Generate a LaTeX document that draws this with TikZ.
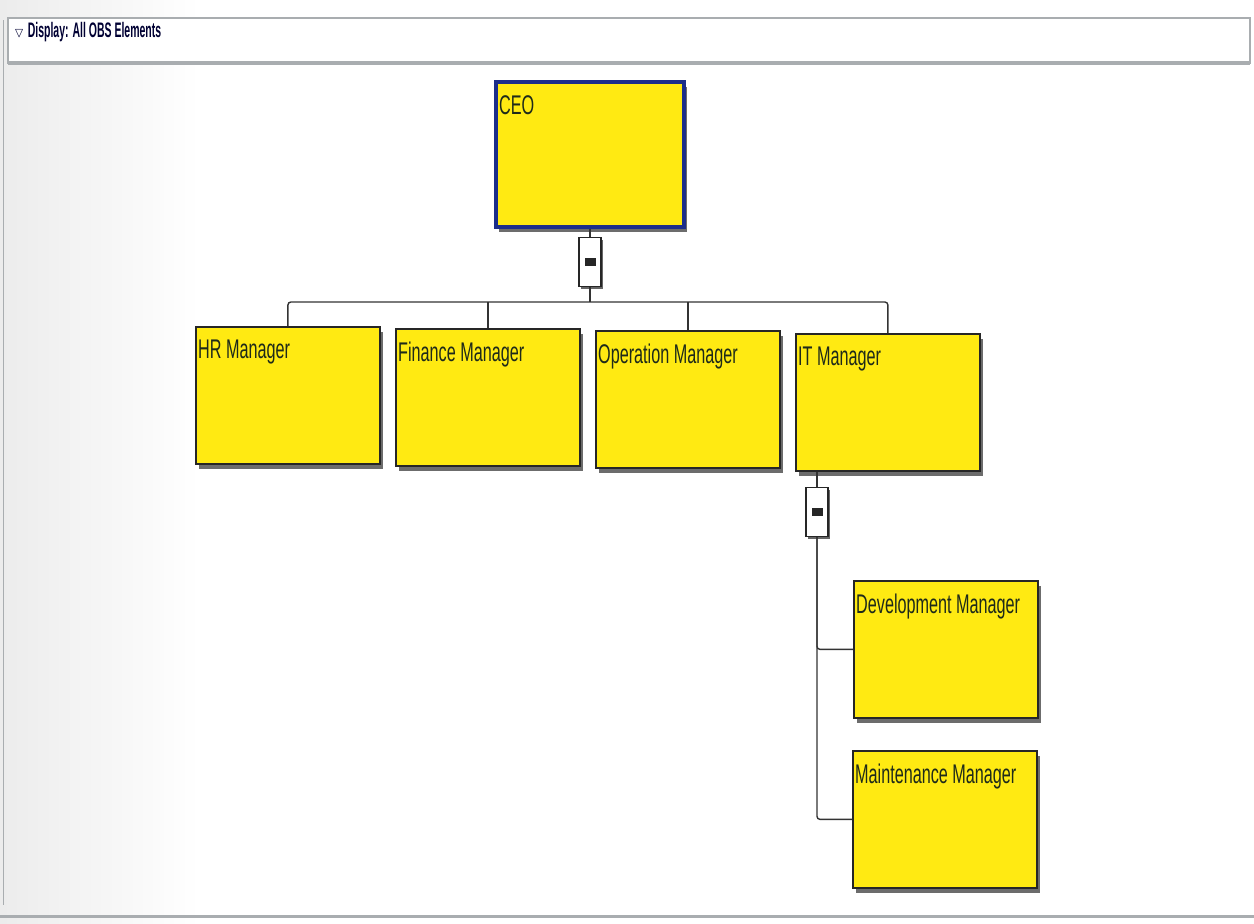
\documentclass[tikz,border=0pt]{standalone}
\usepackage{amssymb}
\usepackage{fontspec}
\setmainfont{Liberation Sans}[FakeStretch=0.6]
\newfontfamily\hdrfont{Liberation Sans}[FakeStretch=0.5]
\usetikzlibrary{positioning,shadows}
\definecolor{obsYellow}{HTML}{FFEA12}
\definecolor{obsNavy}{HTML}{1C2E8A}
\definecolor{obsFrame}{HTML}{A9ADB0}
\definecolor{obsText}{HTML}{1E2A1A}

\tikzset{
  obsbox/.style={draw=black!85,line width=1.8pt,fill=obsYellow,
    minimum width=184,minimum height=137,inner sep=0pt,anchor=north west,
    drop shadow={shadow xshift=3pt,shadow yshift=-5pt,fill=gray!85!black,opacity=1}},
  obslabel/.style={font=\fontsize{27}{30}\selectfont,text=obsText,
    anchor=north west,inner sep=3pt},
  togglebox/.style={draw=black!85,line width=1.3pt,fill=white,
    minimum width=22,minimum height=49,inner sep=0pt,
    drop shadow={shadow xshift=1.5pt,shadow yshift=-2.5pt,fill=gray!80!black,opacity=1},
    path picture={\fill[black!85]
      ([xshift=-5.5pt,yshift=-4pt]path picture bounding box.center)
      rectangle ++(11pt,8pt);}},
  link/.style={draw=black!80,line width=1.4pt,rounded corners=3pt}
}

\begin{document}
\begin{tikzpicture}[x=1pt,y=-1pt]
  \useasboundingbox[fill=white] (0,0) rectangle (1254,924);
  % panel and header bar
  \fill[left color=gray!15,right color=white] (0,0) rectangle (200,924);
  \draw[obsFrame,line width=1pt] (3,20)--(3,905);
  \draw[obsFrame,line width=3pt] (0,916)--(1254,916);
  \draw[obsFrame,line width=1.5pt,fill=white] (8,18) rectangle (1250,63);
  \draw[obsFrame,line width=4pt] (8,63)--(1250,63);
  \node[font=\hdrfont\bfseries\fontsize{21}{24}\selectfont,text=black!80!blue,anchor=west,
    inner sep=0pt] (hdr) at (14,32) {{\normalfont\fontsize{14}{14}\selectfont$\triangledown$}\,Display: All OBS Elements};

  % top level
  \node[obsbox,draw=obsNavy,line width=4pt,minimum width=188,minimum height=145,
    drop shadow={shadow xshift=1pt,shadow yshift=-1pt,fill=black!80,opacity=1}]
    (ceo) at (494,80) {};
  \node[obslabel] at ([xshift=2pt,yshift=-12pt]ceo.north west) {CEO};
  \node[togglebox] (ceotog) at (ceo.south |- 0,262) {};

  % managers
  \node[obsbox] (hr) at (195,326) {};
  \node[obsbox] (fin) at (395,328) {};
  \node[obsbox] (ops) at (595,330) {};
  \node[obsbox] (it) at (795,333) {};
  \node[obslabel] at ([yshift=-11pt]hr.north west) {HR Manager};
  \node[obslabel] at ([yshift=-11pt]fin.north west) {Finance Manager};
  \node[obslabel] at ([yshift=-11pt]ops.north west) {Operation Manager};
  \node[obslabel] at ([yshift=-11pt]it.north west) {IT Manager};
  \node[togglebox] (ittog) at (817,512) {};

  % IT staff
  \node[obsbox] (dev) at (853,580) {};
  \node[obsbox] (mnt) at (852,750) {};
  \node[obslabel] at ([yshift=-11pt]dev.north west) {Development Manager};
  \node[obslabel] at ([yshift=-11pt]mnt.north west) {Maintenance Manager};

  % connectors
  \coordinate (bus) at (ceotog.south |- 0,302);
  \draw[link] (ceo.south) -- (ceotog.north);
  \draw[link] (ceotog.south) -- (bus);
  \draw[link] (hr.north) |- (bus) -| (it.north);
  \draw[link] (fin.north) -- (fin.north |- bus);
  \draw[link] (ops.north) -- (ops.north |- bus);
  \draw[link] (ittog.north) -- (ittog.north |- it.south);
  \draw[link] (ittog.south) |- (dev.west);
  \draw[link] (ittog.south) |- (mnt.west);
\end{tikzpicture}
\end{document}
